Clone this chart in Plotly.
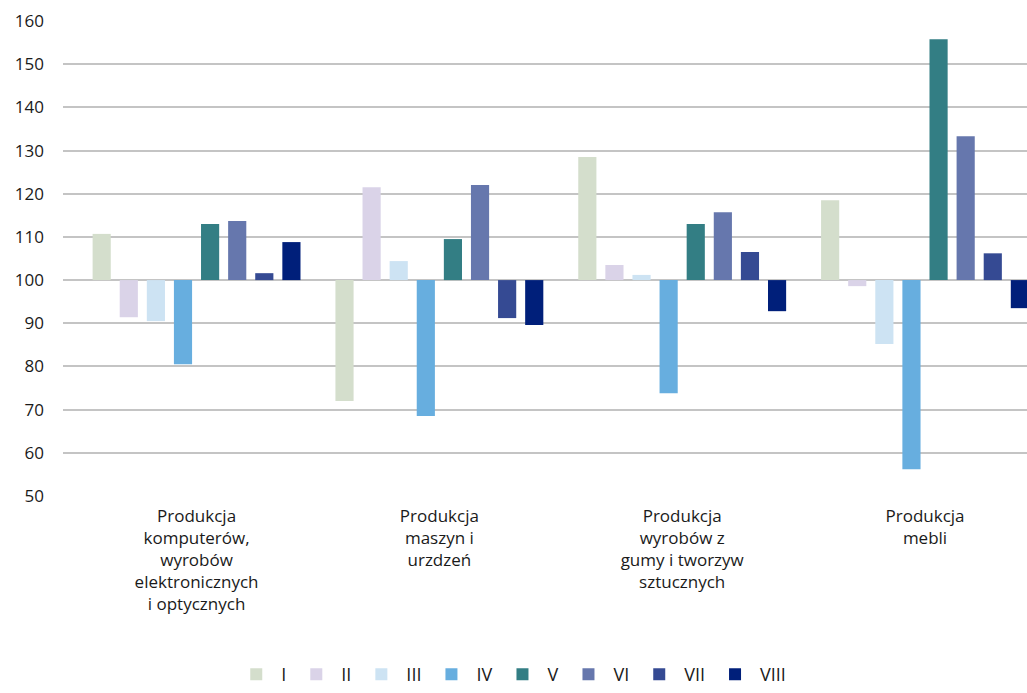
import plotly.graph_objects as go

categories = [
    "Produkcja<br>komputerów,<br>wyrobów<br>elektronicznych<br>i optycznych",
    "Produkcja<br>maszyn i<br>urzdzeń",
    "Produkcja<br>wyrobów z<br>gumy i tworzyw<br>sztucznych",
    "Produkcja<br>mebli",
]
series_names = ["I", "II", "III", "IV", "V", "VI", "VII", "VIII"]
values_I = [110.7, 72.0, 128.5, 118.5]
values_II = [91.4, 121.5, 103.5, 98.6]
values_III = [90.5, 104.4, 101.2, 85.2]
values_IV = [80.5, 68.5, 73.8, 56.2]
values_V = [113.0, 109.5, 113.0, 155.8]
values_VI = [113.7, 122.0, 115.7, 133.3]
values_VII = [101.6, 91.2, 106.5, 106.2]
values_VIII = [108.8, 89.6, 92.8, 93.5]
all_values = [values_I, values_II, values_III, values_IV, values_V, values_VI, values_VII, values_VIII]
colors = ["#D4DECC", "#DAD3E8", "#CDE3F3", "#67AEDF", "#337E84", "#6677AD", "#354A93", "#001F7A"]
baseline = 100
y_ticks = [50, 60, 70, 80, 90, 100, 110, 120, 130, 140, 150, 160]

fig = go.Figure()
for name, vals, col in zip(series_names, all_values, colors):
    fig.add_trace(go.Bar(
        name=name,
        x=list(range(len(categories))),
        y=[v - baseline for v in vals],
        base=baseline,
        marker=dict(color=col, line=dict(width=0)),
    ))

font_family = "Open Sans"
fig.update_layout(
    width=1027, height=693,
    paper_bgcolor="white", plot_bgcolor="white",
    margin=dict(l=63, r=0, t=21, b=197, autoexpand=False),
    barmode="group",
    bargap=0.107,
    bargroupgap=0.33,
    font=dict(family=font_family, size=17, color="#1a1a1a"),
    showlegend=True,
    legend=dict(
        orientation="h",
        x=0.465, xanchor="center",
        yref="container",
        y=0.0, yanchor="bottom",
        font=dict(family=font_family, size=18, color="#1a1a1a"),
        itemwidth=40,
        traceorder="normal",
    ),
    xaxis=dict(
        tickmode="array",
        tickvals=list(range(len(categories))),
        ticktext=categories,
        range=[-0.55, 3.42],
        showgrid=False,
        zeroline=False,
        ticks="",
        tickangle=0,
        ticklabelstandoff=8,
        tickfont=dict(family=font_family, size=17),
    ),
    yaxis=dict(
        range=[50, 160],
        tickvals=y_ticks,
        showgrid=True,
        gridcolor="#C4C4C4",
        gridwidth=1.5,
        zeroline=False,
        ticks="",
        ticklabelstandoff=18,
        tickfont=dict(family=font_family, size=17),
    ),
)

fig.write_html(
    "out.html",
    config={"displayModeBar": False},
    post_script="document.body.style.margin='0';document.body.style.overflow='hidden';",
)
